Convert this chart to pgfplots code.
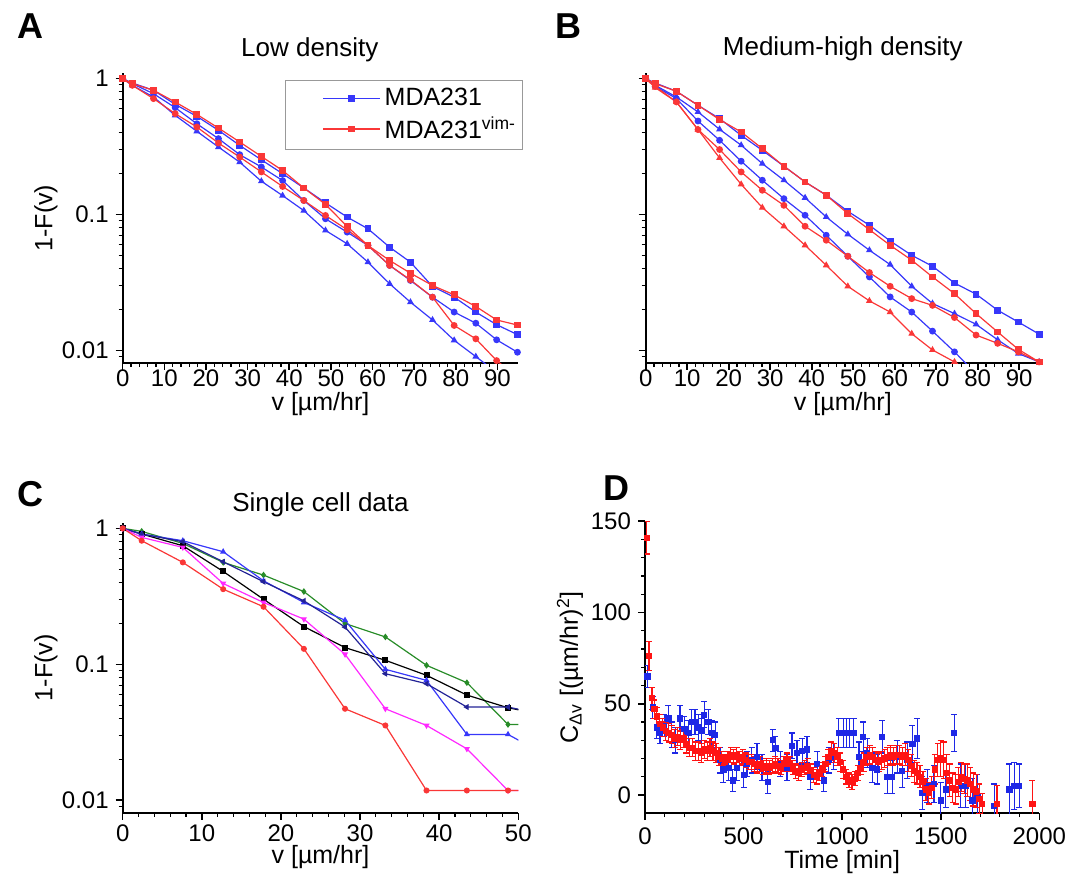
\documentclass[border=0pt]{standalone}
\usepackage{fontspec}
\setmainfont{Liberation Sans}
\usepackage{pgfplots}
\usepackage{pgfplotstable}
\pgfplotsset{compat=1.18}
\pgfkeys{/pgf/number format/.cd, assume math mode=true, 1000 sep={}}

\definecolor{lblue}{RGB}{55,55,250}
\definecolor{lred}{RGB}{250,55,55}
\definecolor{dblue}{RGB}{30,40,230}
\definecolor{dred}{RGB}{255,20,20}
\definecolor{cgreen}{RGB}{40,140,40}
\definecolor{cnavy}{RGB}{35,35,150}
\definecolor{cmag}{RGB}{255,40,255}

% panel A: low density
\pgfplotstableread{
x     bs     rs     bc      rc      bt
0     1      1      1       1       1
2.3   0.929  0.919  0.919   0.893   0.893
7.4   0.821  0.821  0.775   0.713   0.733
12.6  0.647  0.673  0.612   0.553   0.537
17.8  0.528  0.546  0.466   0.441   0.410
23.0  0.417  0.433  0.362   0.336   0.314
28.1  0.323  0.342  0.276   0.265   0.243
33.3  0.253  0.268  0.224   0.206   0.176
38.4  0.200  0.211  0.178   0.161   0.138
43.5  0.157  0.157  0.127   0.127   0.107
48.7  0.122  0.119  0.0932  0.0986  0.0765
53.9  0.0959 0.0818 0.0743  0.0774  0.0610
58.9  0.0787 0.0593 0.0593  0.0593  0.0447
64.1  0.0576 0.0460 0.0423  0.0423  0.0310
69.1  0.0447 0.0371 0.0328  0.0331  0.0227
74.4  0.0296 0.0301 0.0247  0.0247  0.0168
79.6  0.0247 0.0257 0.0192  0.0153  0.0119
84.8  0.0192 0.0211 0.0159  0.0122  0.00903
89.8  0.0155 0.0168 0.0120  0.00844 0.0069
94.8  0.0131 0.0154 0.00972 0.00636 0.0053
}\lowdens

% panel B: medium-high density
\pgfplotstableread{
x     bs     rs      bt      bc      rc      rt
0     1      1       1       1       1       1
2.3   0.929  0.919   0.893   0.878   0.878   0.859
7.4   0.807  0.807   0.733   0.713   0.674   0.674
12.6  0.637  0.637   0.569   0.488   0.422   0.422
17.8  0.508  0.500   0.424   0.352   0.301   0.261
23.0  0.383  0.405   0.324   0.247   0.206   0.167
28.1  0.297  0.306   0.237   0.179   0.151   0.1126
33.3  0.227  0.227   0.179   0.131   0.117   0.0821
38.4  0.174  0.174   0.133   0.0989  0.0821  0.0595
43.5  0.139  0.139   0.0961  0.0705  0.0648  0.0424
48.7  0.1058 0.1017  0.0717  0.0494  0.0494  0.0297
53.9  0.0835 0.0775  0.0547  0.0348  0.0375  0.0232
58.9  0.0640 0.0595  0.0429  0.0248  0.0297  0.0192
64.1  0.0502 0.0462  0.0297  0.0192  0.0241  0.0133
69.1  0.0417 0.0348  0.0222  0.0139  0.0215  0.0101
74.4  0.0314 0.0262  0.0187  0.00978 0.0175  0.00825
79.6  0.0260 0.0187  0.0156  0.00678 0.0130  0.0064
84.8  0.0198 0.0137  0.0120  nan     0.0113  nan
89.8  0.0162 0.0102  0.0095  nan     0.00978 nan
94.8  0.0132 0.00825 0.00825 nan     0.00825 nan
}\meddens

% panel C: single cells
\pgfplotstableread{
x     r      m      g      k      b      n
0     1      1      1      1      1      1
2.4   0.811  0.858  0.950  0.908  0.908  0.908
7.6   0.562  0.724  0.775  0.745  0.811  0.798
12.7  0.357  0.393  0.562  0.482  0.673  0.568
17.8  0.265  0.285  0.453  0.301  0.411  0.405
22.9  0.130  0.215  0.343  0.1895 0.285  0.293
28.1  0.0471 0.1185 0.1995 0.1327 0.211  0.188
33.2  0.0355 0.0471 0.159  0.107  0.0919 0.0853
38.4  0.0118 0.0355 0.0983 0.083  0.0762 0.072
43.5  0.0118 0.0239 0.0733 0.0594 0.0305 0.0485
48.7  0.0118 0.0118 0.0361 0.0479 0.0305 0.0485
53.8  0.0118 0.0118 0.0361 0.042  0.021  0.042
}\single

\pgfplotsset{
  panel/.style={
    scale only axis, axis lines*=left, tick align=outside,
    axis line style={line width=0.9pt},
    major tick style={black, line width=0.8pt},
    minor tick style={black, line width=0.6pt},
    major tick length=3.5pt, minor tick length=2pt,
    tick label style={font=\fontsize{12}{14}\selectfont},
    label style={font=\fontsize{12.5}{15}\selectfont},
    title style={font=\fontsize{13}{15}\selectfont, anchor=base},
  },
  cdf/.style={
    panel, xmin=0, xmax=95, ymin=0.0081, ymax=1.1,
    xtick={0,10,...,90}, minor x tick num=4,
    ytick={0.01,0.1,1},
    minor ytick={0.009,0.02,0.03,0.04,0.05,0.06,0.07,0.08,0.09,0.2,0.3,0.4,0.5,0.6,0.7,0.8,0.9},
    every axis plot/.append style={line width=0.6pt, mark size=1.4pt},
    ylabel style={at={(axis description cs:-0.194,0.5)}, anchor=center},
  },
}

\begin{document}
\begin{tikzpicture}
\useasboundingbox (0,0) rectangle (536.5pt,-437.5pt);

% A
\begin{axis}[ymode=log, cdf, at={(61.35pt,-181.5pt)}, anchor=south west,
  width=197.8pt, height=145pt,
  yticklabels={0.01,0.1,1},
  xticklabel style={yshift=3.5pt},
  xlabel={v [µm/hr]}, ylabel={1-F(v)},
  xlabel style={at={(axis description cs:0.5,0)}, anchor=north, yshift=-11pt},
  title={Low density}, title style={at={(0.473,1)}, yshift=2.2pt},
  legend style={at={(0.41,0.976)}, anchor=north west, draw=gray!80, line width=0.4pt,
    font=\fontsize{12.5}{15}\selectfont, inner xsep=1pt, inner ysep=2pt,
    row sep=0pt, cells={anchor=west}},
  legend image code/.code={\path (-0.62cm,0cm);
    \draw[#1, mark repeat=2, mark phase=2] plot coordinates {(0cm,0cm) (0.5cm,0cm) (1.0cm,0cm)};},
]
\addlegendimage{lblue, mark=square*, line width=0.6pt, mark size=1.4pt}
\addlegendentry{MDA231}
\addlegendimage{lred, mark=square*, line width=0.6pt, mark size=1.4pt}
\addlegendentry{MDA231\textsuperscript{vim-}}
\addplot[forget plot, lblue, mark=square*] table[x=x, y=bs] {\lowdens};
\addplot[forget plot, lblue, mark=*] table[x=x, y=bc] {\lowdens};
\addplot[forget plot, lblue, mark=triangle*] table[x=x, y=bt] {\lowdens};
\addplot[forget plot, lred, mark=square*] table[x=x, y=rs] {\lowdens};
\addplot[forget plot, lred, mark=*] table[x=x, y=rc] {\lowdens};
\end{axis}

% B
\begin{axis}[ymode=log, cdf, at={(322.85pt,-181.5pt)}, anchor=south west,
  width=197.15pt, height=145pt,
  yticklabels={,,},
  xticklabel style={yshift=3.5pt},
  xlabel={v [µm/hr]},
  xlabel style={at={(axis description cs:0.5,0)}, anchor=north, yshift=-11pt},
  title={Medium-high density}, title style={at={(0.5,1)}, yshift=2.8pt},
]
\addplot[lblue, mark=square*] table[x=x, y=bs] {\meddens};
\addplot[lblue, mark=triangle*] table[x=x, y=bt] {\meddens};
\addplot[lblue, mark=*] table[x=x, y=bc] {\meddens};
\addplot[lred, mark=square*] table[x=x, y=rs] {\meddens};
\addplot[lred, mark=*] table[x=x, y=rc] {\meddens};
\addplot[lred, mark=triangle*] table[x=x, y=rt] {\meddens};
\end{axis}

% C
\begin{axis}[ymode=log, cdf, at={(61.35pt,-406.35pt)}, anchor=south west,
  width=197.8pt, height=145pt,
  xmax=50, xtick={0,10,...,50},
  yticklabels={0.01,0.1,1},
  xticklabel style={yshift=1pt},
  xlabel={v [µm/hr]}, ylabel={1-F(v)},
  xlabel style={at={(axis description cs:0.5,0)}, anchor=north, yshift=-13pt},
  title={Single cell data}, title style={at={(0.5,1)}, yshift=-0.5pt},
  every axis plot/.append style={line width=0.6pt, mark size=1.2pt},
]
\addplot[cgreen, mark=diamond*] table[x=x, y=g] {\single};
\addplot[black, mark=square*] table[x=x, y=k] {\single};
\addplot[lblue, mark=triangle*] table[x=x, y=b] {\single};
\addplot[cnavy, mark=triangle*, mark options={rotate=90}] table[x=x, y=n] {\single};
\addplot[cmag, mark=triangle*, mark options={rotate=180}] table[x=x, y=m] {\single};
\addplot[lred, mark=*] table[x=x, y=r] {\single};
\end{axis}

% D
\begin{axis}[panel, at={(322.5pt,-406.6pt)}, anchor=south west,
  width=197.15pt, height=146pt,
  xmin=0, xmax=2000, ymin=-10, ymax=150,
  xtick={0,500,...,2000}, minor x tick num=4,
  ytick={0,50,100,150}, minor y tick num=4,
  xlabel={Time [min]},
  xlabel style={at={(axis description cs:0.5,0)}, anchor=north, yshift=-15pt},
  ylabel={C\textsubscript{Δv} [(µm/hr)\textsuperscript{2}]},
  ylabel style={at={(axis description cs:-0.19,0.5)}, anchor=center},
]
\addplot[dblue, only marks, mark=square*, mark size=1.3pt,
  error bars/.cd, y dir=both, y explicit,
  error bar style={line width=0.6pt},
  error mark options={rotate=90, mark size=1.5pt, line width=0.6pt}]
  table[x index=0, y index=1, y error index=2, header=false] {
12 65 6
39 48 6
59 37 6
76 34 6
97 38 6
119 42 7
136 33 7
153 30 7
178 42 7
200 36 7
220 34 7
237 40 7
254 40 7
271 37 7
288 35 7
300 44 7
322 40 7
339 34 7
356 33 7
381 19 7
398 14 7
424 15 7
444 8 6
466 15 7
500 11 7
517 17 7
542 19 7
568 21 7
593 15 7
622 7 6
647 30 6
661 26 6
686 17 7
720 15 7
746 27 7
771 23 7
797 24 7
822 25 7
839 10 7
873 17 7
907 8 6
932 19 7
958 21 7
983 34 8
1005 34 8
1022 34 8
1039 34 8
1059 34 8
1085 21 8
1107 32 8
1127 23 8
1153 15 8
1178 14 8
1203 32 9
1229 10 9
1254 10 9
1280 21 9
1305 13 9
1331 19 10
1356 28 10
1381 31 11
1407 1 9
1432 5 9
1466 6 10
1500 -3 10
1525 3 10
1568 34 10
1602 5 12
1627 5 12
1661 -3 12
1686 -1 12
1771 -6 12
1848 3 14
1873 5 13
1898 5 12
};
\addplot[dred, only marks, mark=square*, mark size=1.3pt,
  error bars/.cd, y dir=both, y explicit,
  error bar style={line width=0.6pt},
  error mark options={rotate=90, mark size=1.5pt, line width=0.6pt}]
  table[x index=0, y index=1, y error index=2, header=false] {
8 141 9
20 76 8
35 53 6
48 47 5
60 43 5
75 39 5
90 37 5
105 35 5
120 34 5
135 33 5
150 31 5
165 32 5
180 30 5
195 31 5
210 28 5
225 26 5
240 26 5
255 24 5
270 24 5
285 23 5
300 25 5
315 24 5
330 26 5
345 24 5
360 23 5
375 21 5
390 20 4
405 18 4
420 20 4
435 22 4
450 21 4
465 22 4
480 20 4
495 21 4
510 19 4
525 18 4
540 18 4
555 17 4
570 16 4
585 17 4
600 15 4
615 16 4
630 15 4
645 16 4
660 17 4
675 16 4
690 15 4
705 17 4
720 19 4
735 17 4
750 15 4
765 13 4
780 12 4
795 14 4
810 15 4
825 16 4
840 13 4
855 11 4
870 10 4
885 12 4
900 14 4
915 17 4
930 21 4
945 24 5
960 23 5
975 21 5
990 18 5
1005 14 5
1020 10 4
1035 8 4
1050 7 4
1065 9 4
1080 12 4
1095 15 4
1110 18 5
1125 21 5
1140 22 5
1155 21 5
1170 19 5
1185 18 5
1200 19 5
1215 20 5
1230 21 5
1245 22 5
1260 21 5
1275 22 5
1290 22 5
1305 21 5
1320 22 6
1335 19 6
1350 16 6
1365 13 6
1380 12 6
1395 10 6
1410 7 6
1425 3 6
1440 1 6
1455 4 6
1470 14 8
1485 19 9
1500 20 10
1515 19 10
1530 12 10
1545 8 9
1560 4 8
1575 3 8
1590 7 8
1605 10 8
1620 9 8
1635 8 9
1650 6 9
1665 3 9
1680 2 9
1695 -2 8
1710 -5 6
1785 -5 10
1965 -5 13
};
\end{axis}

\node[anchor=base west, font=\bfseries\fontsize{18}{18}\selectfont] at (5pt,-19pt) {A};
\node[anchor=base west, font=\bfseries\fontsize{18}{18}\selectfont] at (274pt,-19pt) {B};
\node[anchor=base west, font=\bfseries\fontsize{18}{18}\selectfont] at (5pt,-253pt) {C};
\node[anchor=base west, font=\bfseries\fontsize{18}{18}\selectfont] at (298pt,-250pt) {D};
\end{tikzpicture}
\end{document}
